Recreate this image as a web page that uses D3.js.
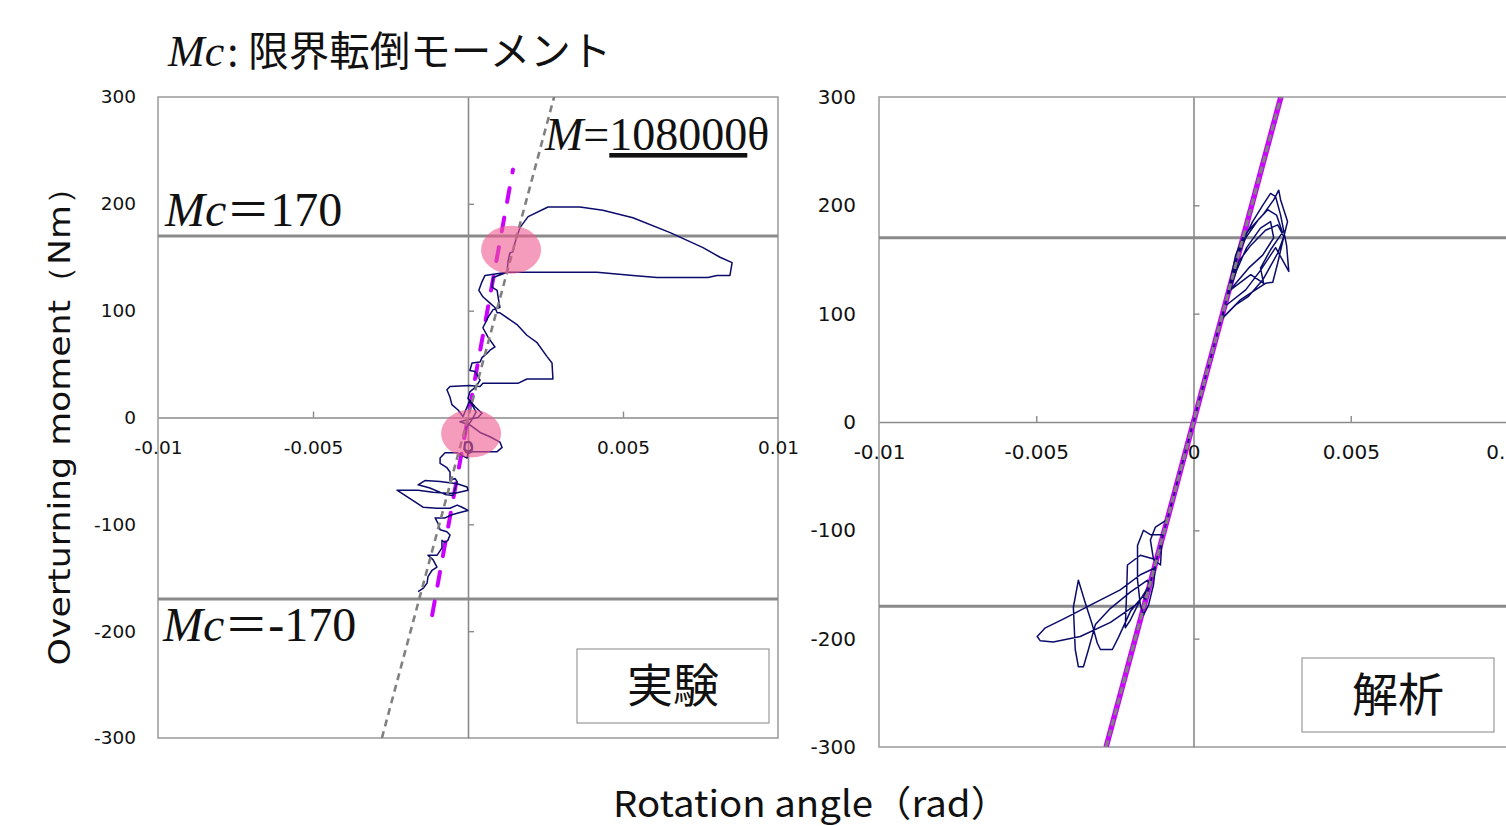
<!DOCTYPE html>
<html><head><meta charset="utf-8">
<script src="https://cdn.jsdelivr.net/npm/d3@7"></script>
<style>
  body{margin:0;background:#fff;overflow:hidden}
  svg{display:block}
</style>
</head><body>
<svg id="chart" width="1506" height="826"></svg>
<script>
// ---------------- data ----------------
const thetaTicks = [-0.01, -0.005, 0, 0.005, 0.01];
const thetaTickLabels = ["-0.01", "-0.005", "0", "0.005", "0.01"];
const momentTicks = [-300, -200, -100, 0, 100, 200, 300];
const momentTickLabels = ["-300", "-200", "-100", "0", "100", "200", "300"];
const criticalMoments = [170, -170];          // Mc = ±170
const stiffness = 108000;                     // M = 108000θ
const expStiffness = 160000;                  // initial stiffness seen in the test
const expStiffnessMoments = [-185, 232];      // span of that dashed line
const highlightTheta = [0.00139, 0.00010];
const highlightMoment = [157, -15];

// test record (実験): rotation angle [rad] / overturning moment [Nm]
const expTheta = [
  -0.00161,-0.00145,-0.00132,-0.00129,-0.00116,-0.00100,-0.00113,-0.00129,-0.00100,-0.00084,
  -0.00084,-0.00074,-0.00065,-0.00058,-0.00068,-0.00090,-0.00097,-0.00106,-0.00074,-0.00052,
  -0.00026, 0.00000,-0.00019,-0.00035,-0.00058,-0.00100,-0.00145,-0.00197,-0.00229,-0.00161,
  -0.00113,-0.00065,-0.00042, 0.00000,-0.00003,-0.00035,-0.00090,-0.00139,-0.00161,-0.00123,
  -0.00074,-0.00048,-0.00035,-0.00042,-0.00058,-0.00058,-0.00068,-0.00090,-0.00090,-0.00074,
  -0.00035,-0.00003, 0.00000, 0.00013, 0.00006,-0.00010,-0.00013, 0.00006, 0.00048, 0.00094,
   0.00110, 0.00103, 0.00071, 0.00039, 0.00006,-0.00026, 0.00000, 0.00032, 0.00045, 0.00023,
   0.00006,-0.00016,-0.00032,-0.00052,-0.00058,-0.00068,-0.00058, 0.00006, 0.00039, 0.00048,
   0.00161, 0.00190, 0.00274, 0.00271, 0.00255, 0.00223, 0.00190, 0.00158, 0.00103, 0.00094,
   0.00087, 0.00071, 0.00048, 0.00035, 0.00045, 0.00055, 0.00126, 0.00265, 0.00416, 0.00532,
   0.00610, 0.00774, 0.00803, 0.00845, 0.00852, 0.00813, 0.00758, 0.00652, 0.00532, 0.00435,
   0.00361, 0.00258, 0.00194, 0.00168, 0.00152, 0.00145, 0.00135, 0.00129, 0.00126, 0.00081,
   0.00077, 0.00094, 0.00097, 0.00103, 0.00081, 0.00065, 0.00055, 0.00048, 0.00065, 0.00087,
   0.00071, 0.00061, 0.00045, 0.00039, 0.00013, 0.00006, 0.00023, 0.00029, 0.00039, 0.00026,
   0.00006, 0.00000, 0.00013, 0.00026, 0.00013,-0.00006,-0.00010
];
const expMoment = [
  -163,-160,-155,-149,-143,-140,-133,-129,-129,-122,
  -115,-117,-115,-110,-107,-105, -99, -94, -94, -91,
   -89, -87, -84, -82, -85, -85, -84, -74, -68, -68,
   -70, -71, -71, -68, -65, -62, -60, -59, -63, -66,
   -72, -73, -60, -57, -59, -51, -47, -43, -38, -33,
   -33, -38, -33, -29, -23, -23, -30, -32, -32, -32,
   -28, -23, -18, -14,  -7,  -4,  -2,   0,   4,  10,
    16,   1,   7,  12,  19,  26,  29,  30,  29,  32,
    32,  36,  36,  51,  57,  70,  77,  87,  98,  98,
   103, 107, 113, 119, 127, 133, 136, 136, 136, 133,
   131, 131, 133, 133, 145, 150, 159, 173, 187, 194,
   197, 197, 188, 178, 164, 155, 154, 146, 136, 131,
   122, 119, 113, 103, 101,  94,  88,  84,  75,  66,
    63,  60,  56,  52,  51,  44,  43,  40,  35,  29,
    24,  18,  12,   5,  -2, -10, -16
];

// analysis record (解析)
const anaTheta = [
   0.00000,-0.00030,-0.00060,-0.00085,
  -0.00089,-0.00121,-0.00137,-0.00127,-0.00105,-0.00100,
  -0.00099,-0.00137,-0.00159,-0.00178,-0.00178,-0.00169,-0.00159,-0.00143,-0.00127,-0.00120,
  -0.00121,-0.00169,-0.00210,-0.00213,-0.00217,-0.00201,-0.00169,-0.00137,-0.00130,
  -0.00125,-0.00169,-0.00233,-0.00328,-0.00408,-0.00471,-0.00497,-0.00487,-0.00446,-0.00360,
  -0.00264,-0.00185,-0.00143,-0.00140,
  -0.00146,-0.00201,-0.00264,-0.00312,-0.00334,-0.00350,-0.00366,-0.00376,-0.00382,-0.00366,
  -0.00344,-0.00322,-0.00306,-0.00296,-0.00258,-0.00239,-0.00201,-0.00162,-0.00152,
  -0.00120,-0.00080,-0.00040, 0.00000, 0.00040, 0.00080,
   0.00086, 0.00134, 0.00175, 0.00220, 0.00268, 0.00287, 0.00268, 0.00229, 0.00182, 0.00143,
   0.00120, 0.00100,
   0.00092, 0.00150, 0.00197, 0.00229, 0.00252, 0.00268, 0.00287, 0.00299, 0.00277, 0.00271,
   0.00255, 0.00220, 0.00182, 0.00156, 0.00134, 0.00111, 0.00100,
   0.00105, 0.00166, 0.00213, 0.00261, 0.00303, 0.00296, 0.00277, 0.00261, 0.00245, 0.00220,
   0.00188, 0.00150, 0.00131, 0.00115,
   0.00118, 0.00182, 0.00223, 0.00213, 0.00245, 0.00283, 0.00264, 0.00236, 0.00207, 0.00166,
   0.00137, 0.00112,
   0.00111, 0.00175, 0.00220, 0.00255, 0.00245, 0.00213, 0.00169, 0.00137,
   0.00100, 0.00060, 0.00020, 0.00000
];
const anaMoment = [
     0, -32, -65, -92,
   -91, -97,-109,-127,-132,-108,
  -104,-104,-100,-114,-146,-169,-178,-169,-150,-130,
  -127,-123,-132,-160,-190,-183,-164,-149,-140,
  -135,-141,-155,-169,-181,-190,-198,-202,-203,-198,
  -185,-169,-155,-151,
  -146,-157,-172,-187,-210,-226,-226,-210,-171,-146,
  -167,-187,-204,-210,-210,-199,-175,-161,-164,
  -130, -86, -43,   0,  43,  86,
    94, 108, 116, 131, 156, 171, 182, 177, 163, 148,
   130, 108,
    96, 113, 122, 128, 129, 147, 171, 185, 205, 214,
   205, 191, 179, 170, 154, 122, 108,
   108, 122, 140, 161, 139, 163, 191, 208, 211, 200,
   185, 163, 145, 124,
   122, 136, 128, 142, 159, 175, 191, 196, 187, 170,
   150, 121,
   120, 142, 154, 170, 185, 179, 161, 140,
   108,  65,  22,   0
];

// ---------------- drawing ----------------
const svg = d3.select("#chart");
const SERIF = "'Liberation Serif','Times New Roman',serif";
const SANS = "'DejaVu Sans',Verdana,sans-serif";
const CJK = "'Noto Sans CJK JP','Noto Sans',sans-serif";
const NAVY = "#0b0b6b";
const GRID = "#8a8a8a";

function drawPanel(cfg) {
  const x = d3.scaleLinear().domain([-0.01, 0.01]).range([cfg.left, cfg.right]);
  const y = d3.scaleLinear().domain([-300, 300]).range([cfg.bottom, cfg.top]);
  const g = svg.append("g");

  const clipId = "clip-" + cfg.id;
  g.append("clipPath").attr("id", clipId).append("rect")
    .attr("x", cfg.left).attr("y", cfg.top)
    .attr("width", cfg.right - cfg.left).attr("height", cfg.bottom - cfg.top);

  // plot frame
  g.append("rect")
    .attr("x", cfg.left).attr("y", cfg.top)
    .attr("width", cfg.right - cfg.left).attr("height", cfg.bottom - cfg.top)
    .attr("fill", "#fff").attr("stroke", "#9a9a9a").attr("stroke-width", 1.5);

  // axes crossing at the origin
  const vAxis = g.append("g").attr("transform", `translate(${x(0)},0)`)
    .call(d3.axisRight(y).tickValues(momentTicks.filter(v => v !== 0 && Math.abs(v) !== 300))
      .tickSize(6).tickSizeOuter(0).tickFormat(""));
  const hAxis = g.append("g").attr("transform", `translate(0,${y(0)})`)
    .call(d3.axisTop(x).tickValues(thetaTicks.filter(v => v !== 0 && Math.abs(v) !== 0.01))
      .tickSize(6).tickSizeOuter(0).tickFormat(""));
  [vAxis, hAxis].forEach(a => {
    a.select(".domain").attr("stroke", GRID).attr("stroke-width", 1.6);
    a.selectAll(".tick line").attr("stroke", GRID).attr("stroke-width", 1.4);
  });

  // tick labels
  const yl = g.append("g").attr("transform", `translate(${cfg.yLabelX},0)`)
    .call(d3.axisLeft(y).tickValues(momentTicks).tickSize(0).tickPadding(0)
      .tickFormat((d, i) => momentTickLabels[i]));
  yl.select(".domain").remove();
  yl.selectAll("text").attr("font-family", SANS).attr("font-size", cfg.tickFont).attr("fill", "#111");
  const xl = g.append("g").attr("transform", `translate(0,${cfg.xLabelY})`)
    .call(d3.axisBottom(x).tickValues(thetaTicks).tickSize(0).tickPadding(0)
      .tickFormat((d, i) => thetaTickLabels[i]));
  xl.select(".domain").remove();
  xl.selectAll("text").attr("font-family", SANS).attr("font-size", cfg.tickFont).attr("fill", "#111");

  // critical overturning moment lines
  g.selectAll(".mc").data(criticalMoments).enter().append("line")
    .attr("x1", cfg.left).attr("x2", cfg.right)
    .attr("y1", d => y(d)).attr("y2", d => y(d))
    .attr("stroke", GRID).attr("stroke-width", 3);

  const line = d3.line().x(d => x(d[0])).y(d => y(d[1]));
  const plot = g.append("g").attr("clip-path", `url(#${clipId})`);

  // magenta stiffness line
  const magentaPts = cfg.magentaK === stiffness
    ? [[-300 / stiffness, -300], [300 / stiffness, 300]]
    : expStiffnessMoments.map(m => [m / cfg.magentaK, m]);
  plot.append("path").datum(magentaPts).attr("d", line)
    .attr("fill", "none").attr("stroke", "#cc00ff")
    .attr("stroke-width", cfg.magentaWidth)
    .attr("stroke-dasharray", cfg.magentaDash)
    .attr("stroke-linecap", cfg.magentaDash ? "round" : "butt");

  // hysteresis trace
  const pts = cfg.theta.map((t, i) => [t, cfg.moment[i]]);
  plot.append("path").datum(pts).attr("d", line)
    .attr("fill", "none").attr("stroke", NAVY).attr("stroke-width", 1.5)
    .attr("stroke-linejoin", "round");

  // gray dashed M = 108000θ
  plot.append("path").datum([[-300 / stiffness, -300], [300 / stiffness, 300]]).attr("d", line)
    .attr("fill", "none").attr("stroke", "#808080")
    .attr("stroke-width", cfg.grayWidth).attr("stroke-dasharray", cfg.grayDash);

  return { x, y, g };
}

const left = drawPanel({
  id: "exp", left: 158, right: 778, top: 97, bottom: 738,
  yLabelX: 136, xLabelY: 441, tickFont: 18.5,
  theta: expTheta, moment: expMoment,
  magentaK: expStiffness, magentaWidth: 4, magentaDash: "14,16",
  grayWidth: 2.6, grayDash: "7,5"
});
const right = drawPanel({
  id: "ana", left: 879, right: 1508, top: 97, bottom: 747,
  yLabelX: 856, xLabelY: 445, tickFont: 20,
  theta: anaTheta, moment: anaMoment,
  magentaK: stiffness, magentaWidth: 5.5, magentaDash: null,
  grayWidth: 3, grayDash: "7,4"
});

// highlighted points on the test record
left.g.selectAll(".hl").data(highlightTheta).enter().append("ellipse")
  .attr("cx", d => left.x(d)).attr("cy", (d, i) => left.y(highlightMoment[i]))
  .attr("rx", 30).attr("ry", 24)
  .attr("fill", "#ee5a8f").attr("fill-opacity", 0.6);

// legend boxes
function tagBox(x0, y0, w, h, label) {
  svg.append("rect").attr("x", x0).attr("y", y0).attr("width", w).attr("height", h)
    .attr("fill", "#fff").attr("stroke", "#9a9a9a").attr("stroke-width", 1.2);
  svg.append("text").attr("x", x0 + w / 2).attr("y", y0 + h / 2 + 16)
    .attr("text-anchor", "middle").attr("font-family", CJK).attr("font-size", 46)
    .attr("fill", "#111").text(label);
}
tagBox(577, 649, 192, 74, "実験");
tagBox(1302, 658, 192, 74, "解析");

// title and annotations
const title = svg.append("text").attr("x", 168).attr("y", 66).attr("fill", "#111");
title.append("tspan").attr("font-family", SERIF).attr("font-style", "italic").attr("font-size", 44).text("Mc");
title.append("tspan").attr("font-family", CJK).attr("font-size", 40).attr("dx", 3).text(":");
title.append("tspan").attr("font-family", CJK).attr("font-size", 40.5).attr("dx", 10).text("限界転倒モーメント");

function mcLabel(x0, y0, value) {
  const t = svg.append("text").attr("x", x0).attr("y", y0).attr("fill", "#111");
  t.append("tspan").attr("font-family", SERIF).attr("font-style", "italic").attr("font-size", 48).text("Mc");
  t.append("tspan").attr("font-family", CJK).attr("font-size", 44).text("＝");
  t.append("tspan").attr("font-family", SERIF).attr("font-size", 48).text(value);
}
mcLabel(165, 226, String(criticalMoments[0]));
mcLabel(163, 641, String(criticalMoments[1]));

const eq = svg.append("text").attr("x", 545).attr("y", 150).attr("fill", "#111")
  .attr("font-family", SERIF).attr("font-size", 46);
eq.append("tspan").attr("font-style", "italic").text("M");
eq.append("tspan").text("=");
eq.append("tspan").attr("text-decoration", "underline").text(String(stiffness));
eq.append("tspan").text("θ");

// axis titles
svg.append("text")
  .attr("transform", "translate(70,418) rotate(-90)")
  .attr("text-anchor", "middle").attr("font-family", SANS).attr("font-size", 31)
  .attr("textLength", 495).attr("lengthAdjust", "spacingAndGlyphs")
  .attr("fill", "#111").text("Overturning moment（Nm）");
svg.append("text")
  .attr("x", 613).attr("y", 817)
  .attr("font-family", CJK).attr("font-size", 36)
  .attr("textLength", 396).attr("lengthAdjust", "spacingAndGlyphs")
  .attr("fill", "#111").text("Rotation angle（rad）");
</script>
</body></html>
